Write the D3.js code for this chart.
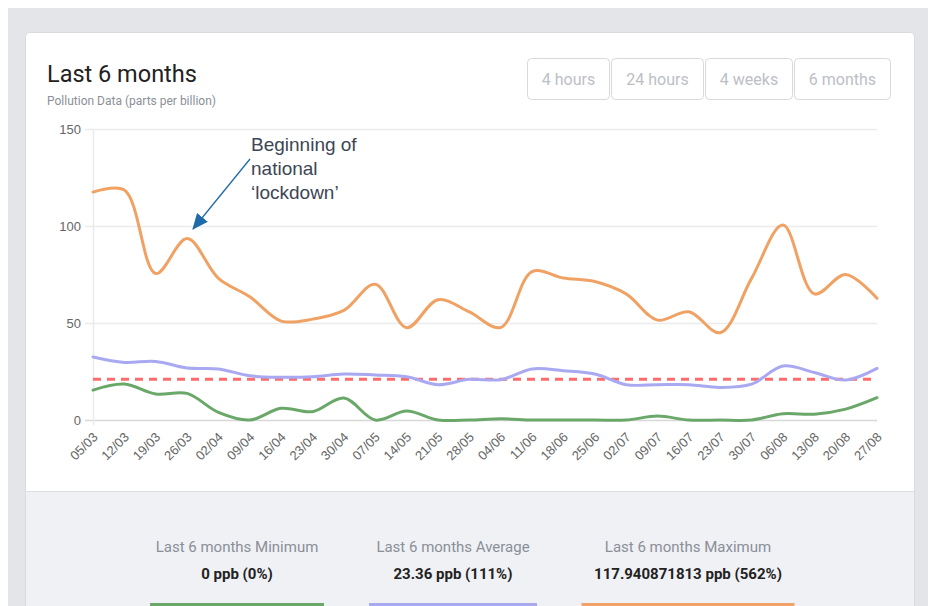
<!DOCTYPE html>
<html>
<head>
<meta charset="utf-8">
<script src="https://cdn.jsdelivr.net/npm/d3@7"></script>
<style>
  body { margin: 0; background: #fff; }
  svg { display: block; }
</style>
</head>
<body>
<div id="chart"></div>
<script>
// weekly dates (dd/mm)
const dates = ['05/03','12/03','19/03','26/03','02/04','09/04','16/04','23/04','30/04','07/05',
  '14/05','21/05','28/05','04/06','11/06','18/06','25/06','02/07','09/07','16/07',
  '23/07','30/07','06/08','13/08','20/08','27/08'];

const maxSeries = [117.5, 118.5, 75.5, 93.5, 73, 63.5, 51, 52, 56.5, 70,
  47.6, 62, 55.7, 47.7, 76.5, 73.2, 71.4, 65, 51.5, 55.8,
  45, 73, 100.5, 65, 75, 62.7];

const avgSeries = [32.5, 29.7, 30.2, 26.8, 26.3, 22.8, 22, 22.3, 23.7, 23.2,
  22.3, 18.2, 21, 20.8, 26.3, 25.4, 23.7, 18.2, 18.2, 18.2,
  16.8, 18.5, 27.8, 24.5, 20.6, 26.6];

const minSeries = [15.4, 18.5, 13.4, 13.7, 3.9, 0, 6, 4.3, 11.3, 0,
  4.6, 0, 0, 0.6, 0, 0, 0, 0, 2, 0,
  0, 0, 3.2, 3, 5.6, 11.5];

const limitValue = 21;
const yTicks = [0, 50, 100, 150];
const buttons = ['4 hours', '24 hours', '4 weeks', '6 months'];
const stats = [
  { label: 'Last 6 months Minimum', value: '0 ppb (0%)', color: '#6aa86a' },
  { label: 'Last 6 months Average', value: '23.36 ppb (111%)', color: '#a9a9ee' },
  { label: 'Last 6 months Maximum', value: '117.940871813 ppb (562%)', color: '#f0a26a' }
];
const noteLines = ['Beginning of', 'national', '\u2018lockdown\u2019'];

const W = 928, H = 606;
const ui = 'Roboto, "Noto Sans", sans-serif';
const arial = '"Liberation Sans", Arial, sans-serif';

const svg = d3.select('#chart').append('svg')
  .attr('width', W).attr('height', H);

// page + card
svg.append('rect').attr('x', 8).attr('y', 8).attr('width', W - 8).attr('height', H - 8).attr('fill', '#e4e5e8');
svg.append('rect').attr('x', 25.5).attr('y', 32.5).attr('width', 889).attr('height', 600)
  .attr('rx', 4).attr('fill', '#fff').attr('stroke', '#d9dbe0');
svg.append('rect').attr('x', 26).attr('y', 491).attr('width', 888).attr('height', 120).attr('fill', '#f0f1f5');
svg.append('line').attr('x1', 26).attr('x2', 914).attr('y1', 491.5).attr('y2', 491.5).attr('stroke', '#dcdee3');

// header
svg.append('text').attr('x', 47).attr('y', 82).attr('font-family', ui)
  .attr('font-size', 23.5).attr('fill', '#222').text('Last 6 months');
svg.append('text').attr('x', 47).attr('y', 105).attr('font-family', ui)
  .attr('font-size', 12).attr('fill', '#8a8f98').text('Pollution Data (parts per billion)');

// range buttons
const btnX = [527, 611, 705, 794];
const btnW = [83, 93, 88, 97];
const btn = svg.append('g').selectAll('g').data(buttons).join('g')
  .attr('transform', (d, i) => `translate(${btnX[i]},58)`);
btn.append('rect').attr('x', 0.5).attr('y', 0.5).attr('width', (d, i) => btnW[i] - 1).attr('height', 41)
  .attr('rx', 4).attr('fill', '#fff').attr('stroke', '#d6d9de');
btn.append('text').attr('x', (d, i) => btnW[i] / 2).attr('y', 27).attr('text-anchor', 'middle')
  .attr('font-family', ui).attr('font-size', 16).attr('fill', '#bcc0c6').text(d => d);

// chart
const x = d3.scalePoint().domain(dates).range([93, 877]);
const y = d3.scaleLinear().domain([0, 150]).range([420, 129]);

const grid = svg.append('g');
grid.selectAll('line').data(yTicks).join('line')
  .attr('x1', 85).attr('x2', 877)
  .attr('y1', d => Math.round(y(d)) + 0.5).attr('y2', d => Math.round(y(d)) + 0.5)
  .attr('stroke', d => d === 0 ? '#d8d8d8' : '#ebebeb').attr('stroke-width', 1.5);
grid.append('line').attr('x1', 93.5).attr('x2', 93.5).attr('y1', y(150)).attr('y2', y(0) + 5)
  .attr('stroke', '#ebebeb').attr('stroke-width', 1.5);

const yAxis = svg.append('g').attr('transform', 'translate(81,0)')
  .call(d3.axisLeft(y).tickValues(yTicks).tickSize(0).tickPadding(0));
yAxis.select('.domain').remove();
yAxis.selectAll('text').attr('font-family', arial)
  .attr('font-size', 13).attr('fill', '#666');

const xAxis = svg.append('g').attr('transform', `translate(0,${y(0)})`)
  .call(d3.axisBottom(x).tickSize(0).tickPadding(0));
xAxis.select('.domain').remove();
xAxis.selectAll('text')
  .attr('font-family', arial)
  .attr('font-size', 13).attr('fill', '#666')
  .attr('text-anchor', 'end')
  .attr('dy', 0)
  .attr('transform', 'translate(5,18) rotate(-45)');

// limit line
svg.append('line').attr('x1', x(dates[0])).attr('x2', x(dates[dates.length - 1]))
  .attr('y1', y(limitValue)).attr('y2', y(limitValue))
  .attr('stroke', '#ff6b6b').attr('stroke-width', 3).attr('stroke-dasharray', '8,6');

const line = d3.line().x((d, i) => x(dates[i])).y(d => y(d)).curve(d3.curveCatmullRom.alpha(0.5));

[[avgSeries, '#a9a9f2'], [minSeries, '#6aa86a'], [maxSeries, '#f0a264']].forEach(([s, c]) => {
  svg.append('path').datum(s).attr('d', line)
    .attr('fill', 'none').attr('stroke', c).attr('stroke-width', 3)
    .attr('stroke-linejoin', 'round').attr('stroke-linecap', 'round');
});

// annotation
svg.append('defs').append('marker').attr('id', 'arr')
  .attr('markerUnits', 'userSpaceOnUse')
  .attr('viewBox', '0 0 16 14').attr('refX', 15).attr('refY', 7)
  .attr('markerWidth', 16).attr('markerHeight', 14).attr('orient', 'auto')
  .append('path').attr('d', 'M0,0L16,7L0,14z').attr('fill', '#1f6aa8');
svg.append('line').attr('x1', 250).attr('y1', 159).attr('x2', 193).attr('y2', 229)
  .attr('stroke', '#1f6aa8').attr('stroke-width', 1.3).attr('marker-end', 'url(#arr)');
svg.append('text').attr('font-family', arial)
  .attr('font-size', 19).attr('fill', '#3d4654')
  .selectAll('tspan').data(noteLines).join('tspan')
  .attr('x', 251).attr('y', (d, i) => 151 + i * 24).text(d => d);

// footer stats
const statX = [237, 453, 688];
const barW = [174, 168, 213];
const st = svg.append('g').selectAll('g').data(stats).join('g')
  .attr('transform', (d, i) => `translate(${statX[i]},0)`);
st.append('text').attr('y', 552).attr('text-anchor', 'middle').attr('font-family', ui)
  .attr('font-size', 15).attr('fill', '#8a8f98').text(d => d.label);
st.append('text').attr('y', 579).attr('text-anchor', 'middle').attr('font-family', ui)
  .attr('font-size', 15).attr('font-weight', 'bold').attr('fill', '#222').text(d => d.value);
st.append('rect').attr('x', (d, i) => -barW[i] / 2).attr('y', 603).attr('width', (d, i) => barW[i])
  .attr('height', 6).attr('fill', d => d.color);
</script>
</body>
</html>
